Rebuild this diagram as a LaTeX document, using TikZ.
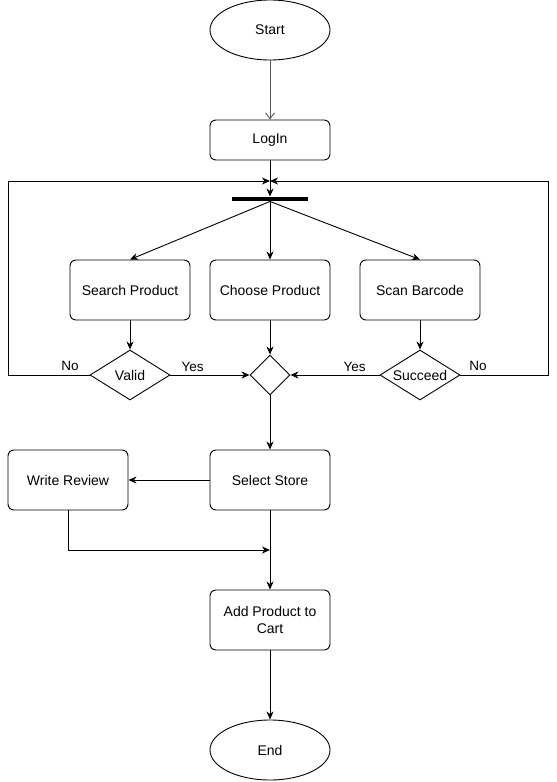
\documentclass[tikz,border=0pt]{standalone}
\usepackage{fontspec}
\setmainfont{Liberation Sans}
\usetikzlibrary{arrows.meta,shapes.geometric}

\begin{document}
\begin{tikzpicture}[x=1pt,y=-1pt,line width=0.9pt,
        every node/.style={font=\fontsize{14}{16.5}\selectfont},
        box/.style={draw,rounded corners=6pt,minimum width=120pt,minimum height=60pt,align=center,inner sep=0pt},
        oval/.style={draw,ellipse,minimum width=120pt,minimum height=60pt,inner sep=0pt},
        decide/.style={draw,diamond,aspect=1.6,minimum width=80pt,minimum height=50pt,inner sep=0pt},
        arr/.style={-{Stealth[length=8pt,width=7pt,inset=2.5pt]}},
        tag/.style={font=\fontsize{13.5}{16}\selectfont}]
        \useasboundingbox (0,0) rectangle (557,782);
        \node[oval] (start) at (270,30) {Start};
        \node[box,minimum height=40pt] (login) at (270,140) {LogIn};
        \coordinate (join) at (270,181);
        \node[fill=black,minimum width=76pt,minimum height=4pt,inner sep=0pt] (bar) at (270,199) {};
        \node[box] (search) at (130,290) {Search Product};
        \node[box] (choose) at (270,290) {Choose Product};
        \node[box] (scan) at (420,290) {Scan Barcode};
        \node[decide] (valid) at (130,375) {Valid};
        \node[draw,diamond,minimum width=40pt,minimum height=40pt,inner sep=0pt] (merge) at (270,375) {};
        \node[decide] (succeed) at (420,375) {Succeed};
        \node[box] (store) at (270,480) {Select Store};
        \node[box] (review) at (68,480) {Write Review};
        \coordinate (back) at (270,550);
        \node[box] (cart) at (270,620) {Add Product to\\Cart};
        \node[oval] (end) at (270,750) {End};
        \coordinate (cornerL) at (8,181);
        \coordinate (cornerR) at (548,181);
        \draw[gray!70!black,-{Straight Barb[length=6pt,width=9pt]}] (start) -- (login); % start - login
        \draw[arr] (login) -- (bar.north);        % login - bar
        \draw[arr] (bar.south) -- (search.north); % bar - search
        \draw[arr] (bar.south) -- (choose.north); % bar - choose
        \draw[arr] (bar.south) -- (scan.north);   % bar - scan
        \draw[arr] (search) -- (valid);
        \draw[arr] (choose) -- (merge);
        \draw[arr] (scan) -- (succeed);
        \draw[arr] (valid.east) -- (merge.west)    node [tag,pos=0.28,above] {Yes};
        \draw[arr] (succeed.west) -- (merge.east)  node [tag,pos=0.28,above] {Yes};
        \draw[arr] (valid.west) -| (cornerL) -- (join);
        \draw[arr] (succeed.east) -| (cornerR) -- (join);
        \node[tag] (noL) at (70,366) {No};
        \node[tag] (noR) at (478,366) {No};
        \draw[arr] (merge) -- (store);            % merge - store
        \draw[arr] (store) -- (review);           % store - review
        \draw[arr] (review.south) |- (back);      % review - back
        \draw[arr] (store) -- (cart);             % store - cart
        \draw[arr] (cart) -- (end);               % cart - end
    \end{tikzpicture}
\end{document}
